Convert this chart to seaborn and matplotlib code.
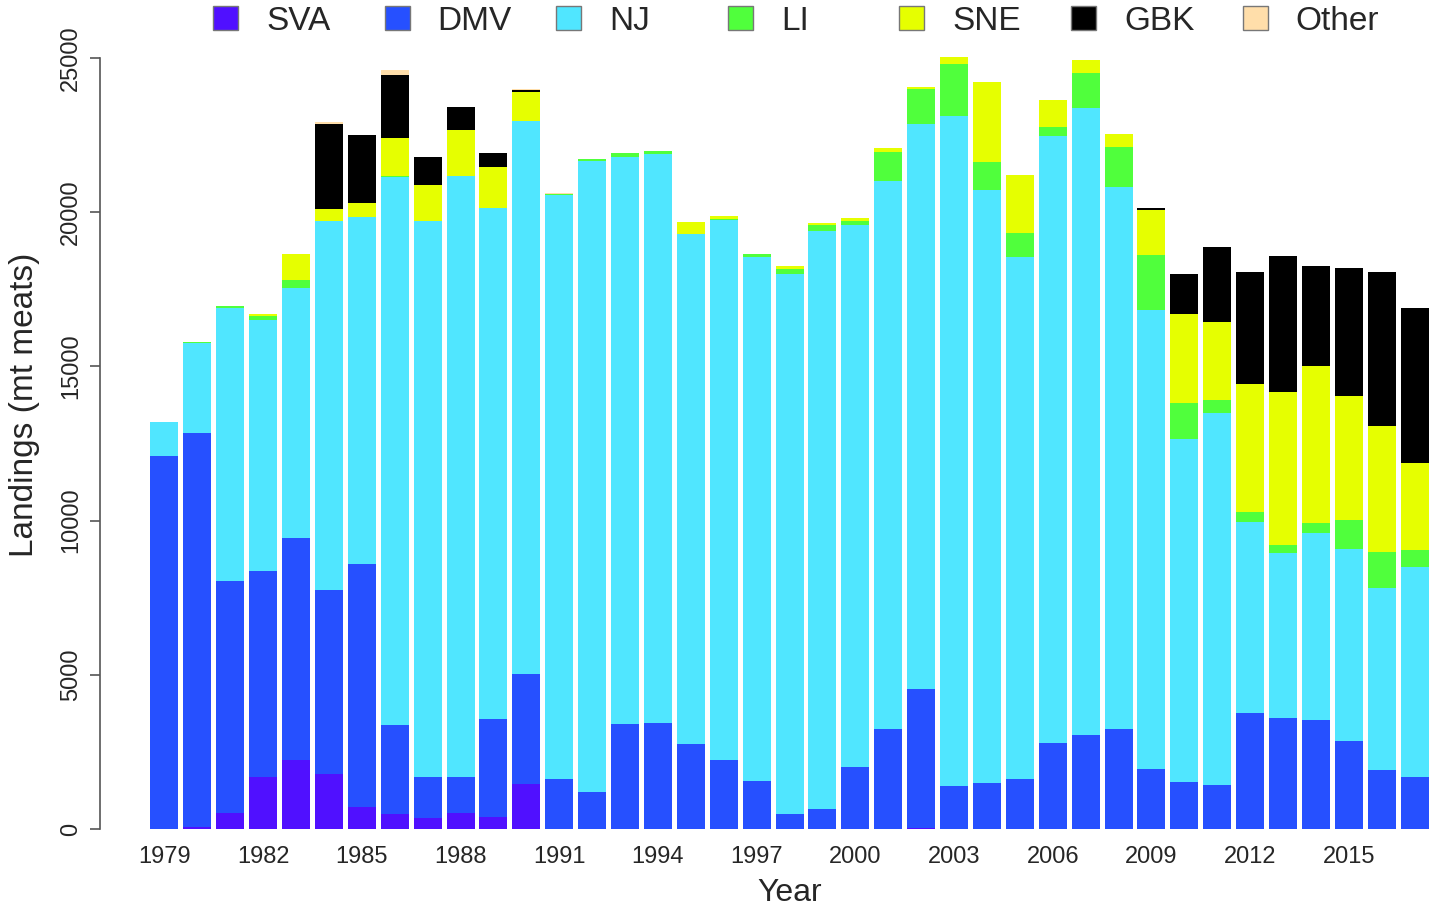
#!/usr/bin/env python3
# -*- coding: utf-8 -*-
"""
Stacked landings by region, 1979-2017
"""

import numpy as np
import pandas as pd
import matplotlib
matplotlib.use("Agg")
import matplotlib.pyplot as plt
from matplotlib.patches import Patch
import seaborn as sns

# data (mt meats)
years = list(range(1979, 2018))

sva = [0, 50, 530, 1690, 2240, 1770, 720, 500, 370, 530,
       400, 1470, 0, 0, 0, 0, 0, 0, 0, 0,
       0, 0, 0, 40, 0, 0, 0, 0, 0, 0,
       0, 0, 0, 0, 0, 0, 0, 0, 0]
dmv = [12100, 12800, 7500, 6690, 7180, 5990, 7860, 2860, 1310, 1150,
       3160, 3570, 1610, 1210, 3400, 3430, 2750, 2240, 1550, 480,
       660, 2020, 3250, 4490, 1390, 1480, 1630, 2780, 3040, 3240,
       1960, 1530, 1430, 3760, 3600, 3520, 2860, 1900, 1700]
nj = [1090, 2900, 8850, 8110, 8110, 11970, 11280, 17790, 18040, 19490,
      16570, 17920, 18950, 20440, 18400, 18450, 16540, 17510, 17000, 17530,
      18740, 17560, 17770, 18320, 21730, 19240, 16920, 19700, 20330, 17580,
      14870, 11100, 12070, 6190, 5350, 6080, 6210, 5920, 6810]
li = [0, 30, 90, 130, 280, 0, 0, 30, 0, 0,
      0, 0, 40, 75, 110, 120, 0, 40, 90, 140,
      190, 120, 940, 1135, 1690, 920, 770, 270, 1155, 1310,
      1795, 1170, 420, 335, 250, 335, 950, 1170, 540]
sne = [0, 0, 0, 80, 820, 380, 450, 1220, 1150, 1510,
       1350, 950, 0, 0, 0, 0, 380, 90, 0, 120,
       50, 100, 110, 65, 220, 2590, 1890, 875, 410, 400,
       1450, 2900, 2530, 4140, 4960, 5090, 4030, 4070, 2830]
gbk = [0, 0, 0, 0, 0, 2750, 2200, 2040, 920, 725,
       430, 60, 0, 0, 0, 0, 0, 0, 0, 0,
       0, 0, 0, 0, 0, 0, 0, 0, 0, 0,
       55, 1300, 2410, 3640, 4430, 3220, 4130, 5010, 5000]
other = [0, 0, 0, 0, 0, 80, 0, 170, 0, 0,
         0, 30, 30, 0, 0, 0, 0, 0, 0, 0,
         0, 0, 0, 0, 0, 0, 0, 0, 0, 0,
         0, 0, 0, 0, 0, 0, 0, 0, 0]

regions = ["SVA", "DMV", "NJ", "LI", "SNE", "GBK", "Other"]
colors = ["#5010FF", "#2650FF", "#50E6FF", "#50FF3C", "#E6FF00", "#000000", "#FFDEAA"]
yticks = [0, 5000, 10000, 15000, 20000, 25000]

W, H = 1435, 915
# plot region in pixels
LEFT, RIGHT, TOP, BOTTOM = 100, 1435, 26, 840


def main():
    df = pd.DataFrame({"year": [str(y) for y in years],
                       "SVA": sva, "DMV": dmv, "NJ": nj, "LI": li,
                       "SNE": sne, "GBK": gbk, "Other": other})

    sns.set_style("white")
    plt.rcParams['font.family'] = ['Liberation Sans', 'DejaVu Sans']

    fig = plt.figure(figsize=(W / 100, H / 100), dpi=100)
    ax = fig.add_axes([LEFT / W, (H - BOTTOM) / H, (RIGHT - LEFT) / W, (BOTTOM - TOP) / H])

    # stacked bars, one seaborn call per region
    bottom = np.zeros(len(years))
    for name, col in zip(regions, colors):
        sns.barplot(data=df, x="year", y=name, color=col, bottom=bottom,
                    width=0.85, linewidth=0, saturation=1, errorbar=None, ax=ax)
        bottom = bottom + df[name].values

    # 0 sits at pixel 829, 25000 at pixel 58
    ppu = (829 - 58) / 25000
    ax.set_xlim(-1.96, 38.62)
    ax.set_ylim(-(BOTTOM - 829) / ppu, (829 - TOP) / ppu)

    # x axis: labels every 3 years, no ticks
    pos = list(range(0, len(years), 3))
    ax.set_xticks(pos)
    ax.set_xticklabels([str(years[i]) for i in pos], fontsize=17)
    ax.tick_params(axis="x", length=0, pad=4)

    # y axis R-style
    ax.set_yticks(yticks)
    ax.set_yticklabels([str(v) for v in yticks], fontsize=17, rotation=90, va="center")
    ax.tick_params(axis="y", length=7, width=1.2, color="#555555", pad=6, left=True)

    for s in ["top", "right", "bottom"]:
        ax.spines[s].set_visible(False)
    ax.spines["left"].set_bounds(0, 25000)
    ax.spines["left"].set_color("#555555")
    ax.spines["left"].set_linewidth(1.2)

    ax.set_xlabel("Year", fontsize=23)
    ax.xaxis.set_label_coords((790 - LEFT) / (RIGHT - LEFT), (BOTTOM - 878) / (BOTTOM - TOP))
    ax.set_ylabel("Landings (mt meats)", fontsize=24)
    ax.yaxis.set_label_coords((40 - LEFT) / (RIGHT - LEFT), (BOTTOM - 405) / (BOTTOM - TOP))

    # legend along the top, one entry per region
    fs = 24
    fs_px = fs * 100 / 72
    for i, (name, col) in enumerate(zip(regions, colors)):
        x0 = 213 + i * 171.6
        fig.legend(handles=[Patch(facecolor=col, edgecolor="#777777", linewidth=1)],
                   labels=[name], loc="center left",
                   bbox_to_anchor=(x0 / W, (H - 21) / H),
                   frameon=False, fontsize=fs, borderpad=0, borderaxespad=0,
                   handlelength=25 / fs_px, handleheight=25 / fs_px,
                   handletextpad=28 / fs_px)

    fig.savefig("out.png", dpi=100)
    plt.close(fig)


if __name__ == "__main__":
    main()
